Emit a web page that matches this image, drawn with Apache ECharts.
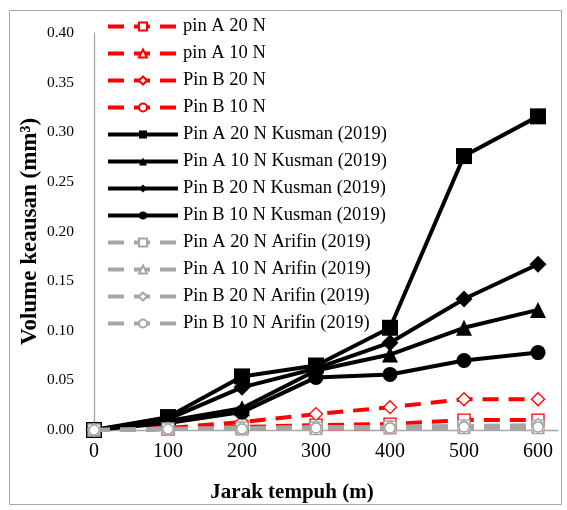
<!DOCTYPE html>
<html>
<head>
<meta charset="utf-8">
<script src="https://cdn.jsdelivr.net/npm/echarts@6/dist/echarts.min.js"></script>
<style>html,body{margin:0;padding:0;background:#fff}#c{width:567px;height:510px}</style>
</head>
<body>
<div id="c"></div>
<script>
var distances = [0, 100, 200, 300, 400, 500, 600];
var yTicks = [0, 0.05, 0.10, 0.15, 0.20, 0.25, 0.30, 0.35, 0.40];

var pinA20 = [0, 0.001, 0.003, 0.005, 0.006, 0.010, 0.010];
var pinA10 = [0, 0.001, 0.001, 0.002, 0.002, 0.003, 0.003];
var pinB20 = [0, 0.002, 0.008, 0.016, 0.023, 0.031, 0.031];
var pinB10 = [0, 0.001, 0.001, 0.001, 0.002, 0.002, 0.002];

var kusA20 = [0, 0.013, 0.054, 0.065, 0.103, 0.276, 0.316];
var kusA10 = [0, 0.009, 0.022, 0.060, 0.076, 0.103, 0.121];
var kusB20 = [0, 0.011, 0.043, 0.062, 0.088, 0.132, 0.167];
var kusB10 = [0, 0.007, 0.018, 0.053, 0.056, 0.070, 0.078];

var ariA20 = [0, 0.001, 0.002, 0.002, 0.003, 0.004, 0.004];
var ariA10 = [0, 0.001, 0.001, 0.001, 0.002, 0.002, 0.002];
var ariB20 = [0, 0.001, 0.002, 0.003, 0.003, 0.004, 0.005];
var ariB10 = [0, 0.001, 0.001, 0.002, 0.002, 0.003, 0.003];

var names = [
  'pin A 20 N', 'pin A 10 N', 'Pin B 20 N', 'Pin B 10 N',
  'Pin A 20 N Kusman (2019)', 'Pin A 10 N Kusman (2019)', 'Pin B 20 N Kusman (2019)', 'Pin B 10 N Kusman (2019)',
  'Pin A 20 N Arifin (2019)', 'Pin A 10 N Arifin (2019)', 'Pin B 20 N Arifin (2019)', 'Pin B 10 N Arifin (2019)'
];
var values = [pinA20, pinA10, pinB20, pinB10, kusA20, kusA10, kusB20, kusB10, ariA20, ariA10, ariB20, ariB10];
var shapes = ['rect', 'triangle', 'diamond', 'circle'];

function pairs(v) { return distances.map(function (x, i) { return [x, v[i]]; }); }

var FONT = 'Liberation Serif';
var series = values.map(function (v, i) {
  var group = Math.floor(i / 4), k = i % 4;
  var s = { name: names[i], type: 'line', data: pairs(v), symbol: shapes[k], z: 2 + group };
  if (group === 0) {
    s.symbolSize = [12, 11, 13, 10][k];
    s.lineStyle = { color: '#ff0000', width: 4, type: [16, 10] };
    s.itemStyle = { color: '#ffffff', borderColor: '#ff0000', borderWidth: 1.3 };
  } else if (group === 1) {
    s.symbolSize = [16, 16, 17, 15][k];
    s.lineStyle = { color: '#000000', width: 4, type: 'solid' };
    s.itemStyle = { color: '#000000', borderColor: '#000000', borderWidth: 0 };
  } else {
    s.symbolSize = [12, 11, 13, 10][k];
    s.lineStyle = { color: '#a6a6a6', width: 4, type: [16, 10] };
    s.itemStyle = { color: '#ffffff', borderColor: '#a6a6a6', borderWidth: 1.3 };
  }
  s.emphasis = { disabled: true };
  return s;
});

var chart = echarts.init(document.getElementById('c'), null, { renderer: 'canvas' });
chart.setOption({
  animation: false,
  backgroundColor: '#ffffff',
  graphic: [{
    type: 'rect', shape: { x: 9.5, y: 10.5, width: 552, height: 494 },
    style: { fill: 'none', stroke: '#a6a6a6', lineWidth: 1 }, silent: true
  }],
  grid: { left: 94, right: 9, top: 33, bottom: 80, containLabel: false },
  legend: {
    data: names, orient: 'vertical', left: 101, top: 12,
    itemWidth: 70, itemHeight: 10, itemGap: 8,
    lineStyle: { width: 4 },
    textStyle: { fontFamily: FONT, fontSize: 18.5, color: '#000' },
    selectedMode: false
  },
  xAxis: {
    type: 'value', min: 0, max: 627, interval: 100,
    axisLine: { show: true, lineStyle: { color: '#a6a6a6', width: 1.3 } },
    axisTick: { show: false }, splitLine: { show: false },
    axisLabel: { showMaxLabel: false, fontFamily: FONT, fontSize: 20, color: '#000', margin: 12 },
    name: 'Jarak tempuh (m)', nameLocation: 'middle', nameGap: 52,
    nameTextStyle: { fontFamily: FONT, fontSize: 21, fontWeight: 'bold', color: '#000', padding: [0, 68, 0, 0] }
  },
  yAxis: {
    type: 'value', min: yTicks[0], max: yTicks[yTicks.length - 1], interval: 0.05,
    axisLine: { show: true, lineStyle: { color: '#a6a6a6', width: 1.3 } },
    axisTick: { show: false }, splitLine: { show: false },
    axisLabel: { fontFamily: FONT, fontSize: 15.5, color: '#000', margin: 20,
      formatter: function (v) { return v.toFixed(2); } },
    name: 'Volume keausan (mm³)', nameLocation: 'middle', nameGap: 52, nameRotate: 90,
    nameMoveOverlap: false,
    nameTextStyle: { fontFamily: FONT, fontSize: 23, fontWeight: 'bold', color: '#000' }
  },
  series: series
});
</script>
</body>
</html>
